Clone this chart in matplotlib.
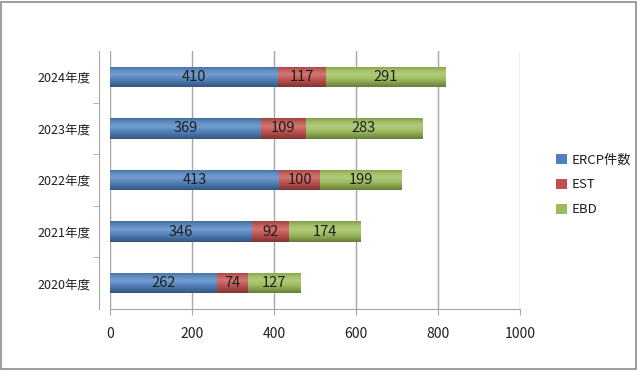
#!/usr/bin/env python3
# -*- coding: utf-8 -*-

import numpy as np
import matplotlib
matplotlib.use("Agg")
import matplotlib.pyplot as plt
from matplotlib.colors import LinearSegmentedColormap, to_rgb
from matplotlib.patches import Rectangle

# -------- data --------
YEARS = ["2020年度", "2021年度", "2022年度", "2023年度", "2024年度"]
ERCP = [262, 346, 413, 369, 410]
EST = [74, 92, 100, 109, 117]
EBD = [127, 174, 199, 283, 291]
SERIES_NAMES = ["ERCP件数", "EST", "EBD"]
X_TICKS = [0, 200, 400, 600, 800, 1000]

# -------- style --------
plt.rcParams["font.family"] = ["Noto Sans CJK JP", "DejaVu Sans"]
COLORS = ["#4F81BD", "#C0504D", "#9BBB59"]
GRID = "#A6A6A6"
TEXT = "#1F1F1F"


def cylinder_cmap(color):
    """Vertical shading so flat bars look a bit like Excel cylinders."""
    base = np.array(to_rgb(color))
    stops = [0.66, 0.86, 1.02, 1.10, 1.04, 0.84]
    cols = []
    for s in stops:
        if s <= 1:
            cols.append(tuple(base * s))
        else:
            cols.append(tuple(base + (1 - base) * (s - 1) * 2.2))
    return LinearSegmentedColormap.from_list("cyl", cols)


def main():
    fig = plt.figure(figsize=(6.38, 3.70), dpi=100)
    ax = fig.add_axes([0.172, 0.165, 0.643, 0.697])

    y = np.arange(len(YEARS))
    left = np.zeros(len(YEARS))
    grad = np.linspace(0, 1, 64).reshape(-1, 1)

    for vals, color, name in zip([ERCP, EST, EBD], COLORS, SERIES_NAMES):
        bars = ax.barh(y, vals, left=left, height=0.4, color=color,
                       label=name, zorder=3)
        cmap = cylinder_cmap(color)
        for b, v in zip(bars, vals):
            x0, y0 = b.get_x(), b.get_y()
            w, h = b.get_width(), b.get_height()
            im = ax.imshow(grad, extent=[x0, x0 + w, y0, y0 + h],
                           origin="lower", cmap=cmap, aspect="auto",
                           zorder=3.5, interpolation="bilinear")
            im.set_clip_path(b)
            ax.text(x0 + w / 2, y0 + h / 2, str(v), ha="center",
                    va="center", fontsize=10.5, color=TEXT, zorder=5)
        left = left + np.array(vals)

    ax.set_xlim(0, 1000)
    ax.set_ylim(-0.5, len(YEARS) - 0.5)
    ax.set_xticks(X_TICKS)
    ax.set_yticks(y)
    ax.set_yticklabels(YEARS)
    ax.set_yticks(np.arange(len(YEARS) - 1) + 0.5, minor=True)

    ax.grid(axis="x", color=GRID, linewidth=1.0, zorder=0)
    for side in ["top", "right"]:
        ax.spines[side].set_visible(False)
    ax.spines["left"].set_color(GRID)
    ax.spines["bottom"].set_color(GRID)
    ax.spines["left"].set_position(("outward", 8))

    ax.tick_params(axis="y", which="major", length=0, pad=6,
                   labelsize=9, labelcolor=TEXT)
    ax.tick_params(axis="y", which="minor", length=4, color=GRID)
    ax.tick_params(axis="x", length=4, color=GRID, pad=9,
                   labelsize=10, labelcolor=TEXT)

    handles, labels = ax.get_legend_handles_labels()
    leg = fig.legend(handles, labels, loc="center left",
                     bbox_to_anchor=(0.853, 0.50), frameon=False,
                     fontsize=9.5, handlelength=0.8, handleheight=0.8,
                     handletextpad=0.4, labelspacing=0.9)
    for t in leg.get_texts():
        t.set_color(TEXT)

    # outer chart frame
    fig.patches.append(Rectangle((0.002, 0.003), 0.995, 0.992,
                                 transform=fig.transFigure, fill=False,
                                 edgecolor="#8C8C8C", linewidth=1.2))

    fig.savefig("out.png", dpi=100)
    plt.close(fig)


if __name__ == "__main__":
    main()
